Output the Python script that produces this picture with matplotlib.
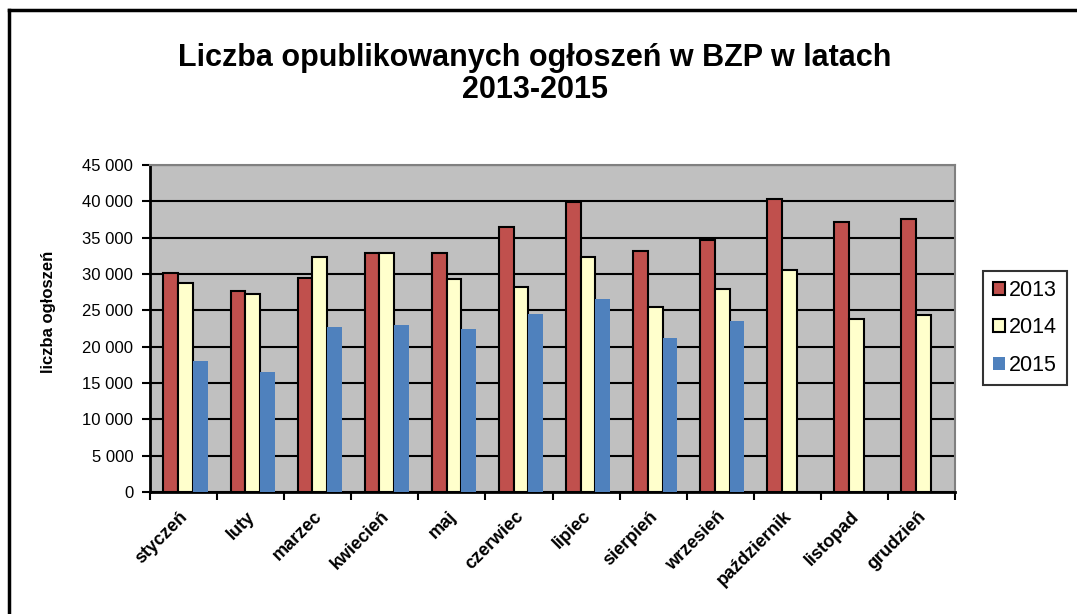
import matplotlib
matplotlib.use("Agg")
import matplotlib.pyplot as plt
from matplotlib.lines import Line2D
from matplotlib.ticker import FuncFormatter, MultipleLocator
import matplotlib.transforms as mtransforms
import numpy as np

plt.rcParams["font.family"] = ["Liberation Sans", "DejaVu Sans"]

months = ["styczeń", "luty", "marzec", "kwiecień", "maj", "czerwiec", "lipiec",
          "sierpień", "wrzesień", "październik", "listopad", "grudzień"]
y2013 = [30200, 27600, 29400, 32900, 32900, 36400, 39900, 33200, 34700, 40300, 37100, 37600]
y2014 = [28800, 27300, 32300, 32900, 29300, 28200, 32300, 25500, 27900, 30500, 23800, 24400]
y2015 = [18000, 16500, 22700, 23000, 22400, 24500, 26500, 21200, 23600]
years = ["2013", "2014", "2015"]

fig = plt.figure(figsize=(10.77, 6.14), dpi=100)
ax = fig.add_axes([150 / 1077, 1 - 492 / 614, 805 / 1077, 327 / 614])
ax.set_facecolor("#C0C0C0")

x = np.arange(len(months))
w = 0.22
shift = 0.03
ax.bar(x - w + shift, y2013, w, color="#C0504D", edgecolor="black", linewidth=1.5, zorder=3, label=years[0])
ax.bar(x + shift, y2014, w, color="#FFFFCC", edgecolor="black", linewidth=1.5, zorder=3, label=years[1])
ax.bar(np.arange(len(y2015)) + w + shift, y2015, w, color="#4F81BD", linewidth=0, zorder=3, label=years[2])

ax.set_xlim(-0.5, len(months) - 0.5)
ax.set_ylim(0, 45000)
ax.yaxis.set_major_locator(MultipleLocator(5000))
ax.yaxis.set_major_formatter(FuncFormatter(lambda v, p: f"{int(v):,}".replace(",", " ")))
ax.grid(axis="y", color="black", linewidth=1.5, zorder=1)
ax.set_axisbelow(True)

for s in ["top", "right"]:
    ax.spines[s].set_color("#808080")
    ax.spines[s].set_linewidth(1.5)
for s in ["left", "bottom"]:
    ax.spines[s].set_color("black")
    ax.spines[s].set_linewidth(2)

ax.tick_params(axis="y", direction="out", length=6, width=1.5, labelsize=12, pad=6)
ax.set_xticks(x)
ax.set_xticks(np.arange(len(months) + 1) - 0.5, minor=True)
ax.tick_params(axis="x", which="major", length=0)
ax.tick_params(axis="x", which="minor", direction="out", length=6, width=1.5)
ax.set_xticklabels(months, rotation=45, ha="right", va="top", fontsize=13, fontweight="bold")
offset = mtransforms.ScaledTranslation(8 / 100, -11 / 100, fig.dpi_scale_trans)
for lbl in ax.get_xticklabels():
    lbl.set_transform(lbl.get_transform() + offset)

fig.text(49 / 1077, 1 - 312 / 614, "liczba ogłoszeń", rotation=90, ha="center", va="center",
         fontsize=12, fontweight="bold")
fig.text(535 / 1077, 1 - 74 / 614, "Liczba opublikowanych ogłoszeń w BZP w latach\n2013-2015",
         ha="center", va="center", fontsize=22, fontweight="bold", linespacing=1.13)

leg = fig.legend(loc="center", bbox_to_anchor=(1025 / 1077, 1 - 328 / 614), fontsize=15.5,
                 frameon=True, fancybox=False, edgecolor="black", handlelength=0.55,
                 handleheight=0.55, handletextpad=0.2, labelspacing=0.75, borderpad=0.45)
leg.get_frame().set_linewidth(1.5)

# frame around the chart (only top and left visible in the crop)
fig.add_artist(Line2D([9 / 1077, 9 / 1077], [0, 1 - 10 / 614], color="black", linewidth=2.5))
fig.add_artist(Line2D([9 / 1077, 1], [1 - 10 / 614, 1 - 10 / 614], color="black", linewidth=2.5))

fig.savefig("out.png", dpi=100)
